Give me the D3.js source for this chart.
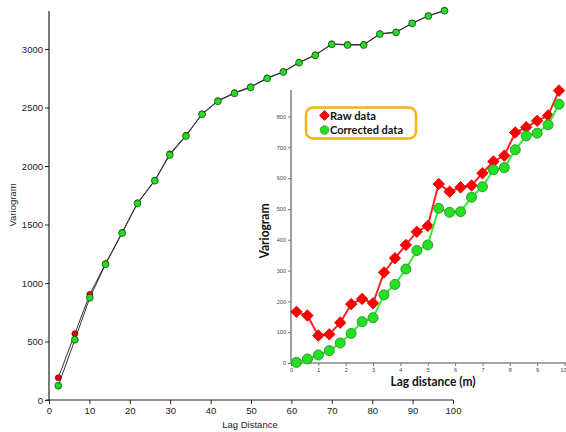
<!DOCTYPE html>
<html>
<head>
<meta charset="utf-8">
<script src="https://cdn.jsdelivr.net/npm/d3@7"></script>
<style>
  html, body { margin: 0; padding: 0; background: #fff; }
  svg { display: block; }
</style>
</head>
<body>
<svg id="chart" width="566" height="432"></svg>
<script>
// ---- Main variogram (lag distance 0–100) ----
const mainLag = [2.3, 6.4, 10.1, 14, 18.1, 21.9, 26.2, 29.9, 33.9, 37.9, 41.8, 45.9, 49.9,
                 54, 58, 61.9, 65.9, 70, 73.9, 77.9, 81.9, 85.9, 89.9, 93.9, 97.9];
const mainRaw = [190, 567, 903, 1166, 1432, 1686, 1879, 2104, 2262, 2447, 2558, 2627, 2677,
                 2753, 2807, 2887, 2950, 3044, 3038, 3038, 3131, 3145, 3222, 3285, 3330];
const mainCorrected = [122, 515, 874, 1160, 1427, 1680, 1874, 2094, 2256, 2442, 2553, 2621, 2672,
                       2749, 2803, 2883, 2946, 3040, 3034, 3034, 3128, 3142, 3219, 3282, 3327];
const mainXTicks = [0, 10, 20, 30, 40, 50, 60, 70, 80, 90, 100];
const mainYTicks = [0, 500, 1000, 1500, 2000, 2500, 3000];

// ---- Inset variogram (lag distance in metres) ----
const insetLag = [0.2, 0.6, 1.0, 1.4, 1.8, 2.2, 2.6, 3.0, 3.4, 3.8, 4.2, 4.6, 5.0,
                  5.4, 5.8, 6.2, 6.6, 7.0, 7.4, 7.8, 8.2, 8.6, 9.0, 9.4, 9.8];
const insetRaw = [166, 154, 89, 93, 131, 191, 208, 194, 294, 340, 383, 426, 445,
                  581, 556, 570, 576, 616, 654, 673, 748, 765, 786, 803, 884];
const insetCorrected = [2, 13, 26, 40, 65, 96, 134, 147, 221, 255, 305, 365, 383,
                        502, 489, 491, 538, 572, 627, 634, 692, 737, 746, 773, 840];
const insetXTicks = [0, 1, 2, 3, 4, 5, 6, 7, 8, 9, 10];
const insetYTicks = [0, 100, 200, 300, 400, 500, 600, 700, 800];
const legendLabels = ["Raw data", "Corrected data"];

const svg = d3.select("#chart");
const plain = d3.format("d");

// ================= Main chart =================
const mx = d3.scaleLinear().domain([0, 100]).range([49, 453]);
const my = d3.scaleLinear().domain([0, 3325]).range([400, 11]);
const mainFont = "'Liberation Sans', Arial, sans-serif";

const gx = svg.append("g").attr("transform", `translate(0,${my(0)})`)
  .call(d3.axisBottom(mx).tickValues(mainXTicks).tickFormat(plain)
    .tickSize(4).tickSizeOuter(0).tickPadding(3));
const gy = svg.append("g").attr("transform", `translate(${mx(0)},0)`)
  .call(d3.axisLeft(my).tickValues(mainYTicks).tickFormat(plain)
    .tickSize(4).tickSizeOuter(0).tickPadding(2));
[gx, gy].forEach(g => {
  g.select(".domain").attr("stroke", "#222").attr("stroke-width", 1.2);
  g.selectAll(".tick line").attr("stroke", "#222");
  g.selectAll(".tick text").attr("font-family", mainFont).attr("font-size", 9.5).attr("fill", "#222");
});
gy.select(".domain").attr("d", `M0,${my(0)}V${my.range()[1]}`);
gx.select(".domain").attr("d", `M${mx(0) - 3},0H${mx(100)}`);

svg.append("text").attr("x", 250).attr("y", 428).attr("text-anchor", "middle")
  .attr("font-family", mainFont).attr("font-size", 9.5).attr("fill", "#222").text("Lag Distance");
svg.append("text").attr("transform", "translate(16,205) rotate(-90)").attr("text-anchor", "middle")
  .attr("font-family", mainFont).attr("font-size", 9.5).attr("fill", "#222").text("Variogram");

const mainLine = d3.line().x(d => mx(d[0])).y(d => my(d[1]));
const rawPts = mainLag.map((l, i) => [l, mainRaw[i]]);
const corrPts = mainLag.map((l, i) => [l, mainCorrected[i]]);

svg.append("path").datum(rawPts).attr("d", mainLine)
  .attr("fill", "none").attr("stroke", "#333").attr("stroke-width", 1);
svg.append("path").datum(corrPts).attr("d", mainLine)
  .attr("fill", "none").attr("stroke", "#333").attr("stroke-width", 1);
svg.append("g").selectAll("circle").data(rawPts).join("circle")
  .attr("cx", d => mx(d[0])).attr("cy", d => my(d[1])).attr("r", 3)
  .attr("fill", "#e00000").attr("stroke", "#600").attr("stroke-width", 0.6);
svg.append("g").selectAll("circle").data(corrPts).join("circle")
  .attr("cx", d => mx(d[0])).attr("cy", d => my(d[1])).attr("r", 3.4)
  .attr("fill", "#22dd22").attr("stroke", "#1a4d1a").attr("stroke-width", 0.8);

// ================= Inset chart =================
const ix = d3.scaleLinear().domain([0, 10]).range([291, 564.5]);
const iy = d3.scaleLinear().domain([0, 886]).range([363, 90]);
const insetFont = "Lato, 'Open Sans', sans-serif";

const igx = svg.append("g").attr("transform", `translate(0,${iy(0)})`)
  .call(d3.axisBottom(ix).tickValues(insetXTicks).tickSize(3).tickSizeOuter(0).tickPadding(2));
const igy = svg.append("g").attr("transform", `translate(${ix(0)},0)`)
  .call(d3.axisLeft(iy).tickValues(insetYTicks).tickSize(3).tickSizeOuter(0).tickPadding(2));
[igx, igy].forEach(g => {
  g.select(".domain").attr("stroke", "#888").attr("stroke-width", 1.6);
  g.selectAll(".tick line").attr("stroke", "#777");
  g.selectAll(".tick text").attr("font-family", "'Liberation Sans', Arial, sans-serif")
    .attr("font-size", 5.5).attr("fill", "#444");
});
igy.select(".domain").attr("d", `M0,${iy(0)}V${iy(886)}`);
igx.select(".domain").attr("d", `M${ix(0)},0H566`);
// keep the last x label inside the page edge
igx.selectAll(".tick text").filter(d => d === 10).attr("text-anchor", "end").attr("dx", 1.5);

svg.append("text").attr("x", 433).attr("y", 386).attr("text-anchor", "middle")
  .attr("font-family", insetFont).attr("font-weight", "bold").attr("font-size", 13.5)
  .attr("fill", "#111").attr("textLength", 85).attr("lengthAdjust", "spacingAndGlyphs")
  .text("Lag distance (m)");
svg.append("text").attr("transform", "translate(269,231) rotate(-90)").attr("text-anchor", "middle")
  .attr("font-family", insetFont).attr("font-weight", "bold").attr("font-size", 13)
  .attr("fill", "#111").attr("textLength", 55).attr("lengthAdjust", "spacingAndGlyphs")
  .text("Variogram");

const insetLine = d3.line().x(d => ix(d[0])).y(d => iy(d[1]));
const iRaw = insetLag.map((l, i) => [l, insetRaw[i]]);
const iCorr = insetLag.map((l, i) => [l, insetCorrected[i]]);
const diamond = d3.symbol().type(d3.symbolDiamond2).size(85);

svg.append("path").datum(iRaw).attr("d", insetLine)
  .attr("fill", "none").attr("stroke", "#ff2020").attr("stroke-width", 2);
svg.append("g").selectAll("path").data(iRaw).join("path")
  .attr("d", diamond).attr("transform", d => `translate(${ix(d[0])},${iy(d[1])})`)
  .attr("fill", "#ff0000").attr("stroke", "#e00000").attr("stroke-width", 0.8);

svg.append("path").datum(iCorr).attr("d", insetLine)
  .attr("fill", "none").attr("stroke", "#33ee33").attr("stroke-width", 2);
svg.append("g").selectAll("circle").data(iCorr).join("circle")
  .attr("cx", d => ix(d[0])).attr("cy", d => iy(d[1])).attr("r", 5)
  .attr("fill", "#22e022").attr("stroke", "#2f9a2f").attr("stroke-width", 1);

// Legend
const lg = svg.append("g");
lg.append("rect").attr("x", 306).attr("y", 107.5).attr("width", 110).attr("height", 31)
  .attr("rx", 7).attr("fill", "#fff").attr("stroke", "#f5b316").attr("stroke-width", 2.5);
lg.append("path").attr("d", d3.symbol().type(d3.symbolDiamond2).size(60))
  .attr("transform", "translate(324.5,115.5)").attr("fill", "#ff0000").attr("stroke", "#e00000");
lg.append("circle").attr("cx", 324.5).attr("cy", 130).attr("r", 4.3)
  .attr("fill", "#22e022").attr("stroke", "#2f9a2f").attr("stroke-width", 0.8);
[[legendLabels[0], 119.5, 46], [legendLabels[1], 134, 73]].forEach(([t, yy, w]) => {
  lg.append("text").attr("x", 330).attr("y", yy)
    .attr("font-family", insetFont).attr("font-weight", "bold").attr("font-size", 12)
    .attr("fill", "#111").attr("textLength", w).attr("lengthAdjust", "spacingAndGlyphs").text(t);
});
</script>
</body>
</html>
